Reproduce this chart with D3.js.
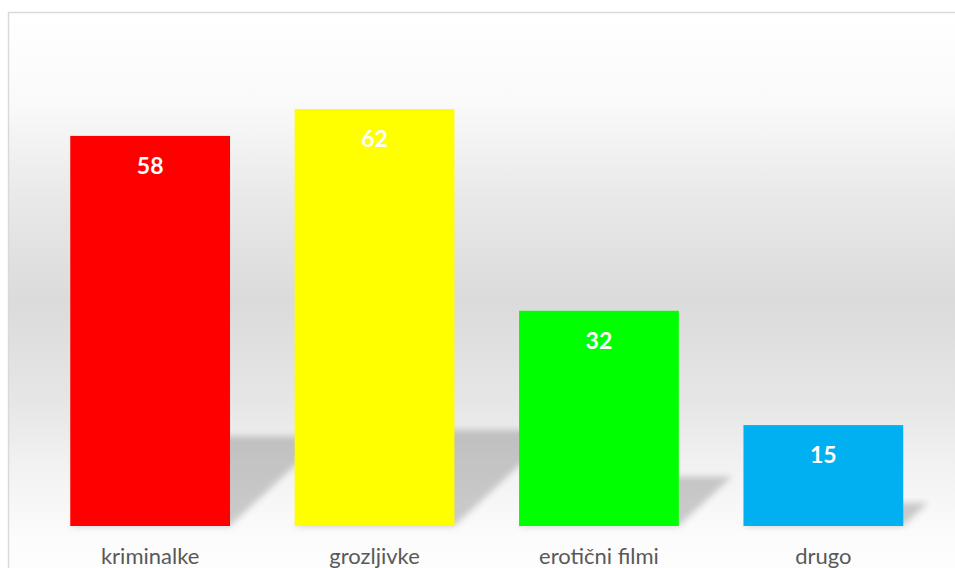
<!DOCTYPE html>
<html>
<head>
<meta charset="utf-8">
<script src="https://cdn.jsdelivr.net/npm/d3@7"></script>
<style>
  body { margin: 0; background: #fff; }
  svg { display: block; }
</style>
</head>
<body>
<svg id="chart" width="955" height="568"></svg>
<script>
const categories = ["kriminalke", "grozljivke", "erotični filmi", "drugo"]
const values = [58, 62, 32, 15]
const barColors = ["#ff0000", "#ffff00", "#00ff00", "#00b0f0"]

const svg = d3.select("#chart")
const defs = svg.append("defs")

// panel background: white -> grey -> white
const bg = defs.append("linearGradient")
  .attr("id", "bg")
  .attr("x1", 0).attr("x2", 0)
  .attr("gradientUnits", "userSpaceOnUse")
  .attr("y1", 13).attr("y2", 568)
const stops = [[0, "#ffffff"], [0.16, "#fafafa"], [0.34, "#e8e8e8"], [0.52, "#dbdbdb"], [0.7, "#e6e6e6"], [0.82, "#f2f2f2"], [0.95, "#fcfcfc"], [1, "#fdfdfd"]]
stops.forEach(s => bg.append("stop").attr("offset", s[0]).attr("stop-color", s[1]))

defs.append("filter")
  .attr("id", "blur")
  .attr("x", "-20%").attr("y", "-20%").attr("width", "140%").attr("height", "140%")
  .append("feGaussianBlur")
  .attr("stdDeviation", 3)

svg.append("rect")
  .attr("x", 8.5).attr("y", 12.5)
  .attr("width", 960).attr("height", 600)
  .attr("fill", "url(#bg)")
  .attr("stroke", "#d9d9d9")
  .attr("stroke-width", 1.5)

const xScale = d3.scaleBand()
  .domain(categories)
  .range([37.5, 936])
  .paddingInner(0.288)
  .paddingOuter(0.146)

const yScale = d3.scaleLinear()
  .domain([0, 62])
  .range([526, 109])

const data = categories.map((c, i) => ({ name: c, value: values[i], color: barColors[i] }))

// perspective shadows leaning to upper right
const shadowPoints = d => {
  const x0 = xScale(d.name)
  const x1 = x0 + xScale.bandwidth()
  const base = yScale(0)
  const sh = (base - yScale(d.value)) * 0.23
  const dx = sh * 1.07
  return [[x0, base], [x1, base], [x1 + dx, base - sh], [x0 + dx, base - sh]]
}

svg.append("g")
  .selectAll("polygon")
  .data(data)
  .enter()
  .append("polygon")
  .attr("points", d => shadowPoints(d).map(p => p.join(",")).join(" "))
  .attr("fill", "#000")
  .attr("fill-opacity", 0.19)
  .attr("filter", "url(#blur)")

svg.append("g")
  .selectAll(".bar")
  .data(data)
  .enter()
  .append("rect")
  .classed("bar", true)
  .attr("x", d => xScale(d.name))
  .attr("y", d => yScale(d.value))
  .attr("width", xScale.bandwidth())
  .attr("height", d => yScale(0) - yScale(d.value))
  .attr("fill", d => d.color)

svg.append("g")
  .selectAll("text")
  .data(data)
  .enter()
  .append("text")
  .attr("x", d => xScale(d.name) + xScale.bandwidth() / 2)
  .attr("y", d => yScale(d.value) + 38)
  .attr("text-anchor", "middle")
  .attr("font-family", "Lato, 'Open Sans', sans-serif")
  .attr("font-weight", "bold")
  .attr("font-size", 23)
  .attr("fill", "#ffffff")
  .text(d => d.value)

svg.append("g")
  .selectAll("text")
  .data(categories)
  .enter()
  .append("text")
  .attr("x", d => xScale(d) + xScale.bandwidth() / 2)
  .attr("y", 564)
  .attr("text-anchor", "middle")
  .attr("font-family", "Lato, 'Open Sans', sans-serif")
  .attr("font-size", 22)
  .attr("fill", "#595959")
  .text(d => d)
</script>
</body>
</html>
